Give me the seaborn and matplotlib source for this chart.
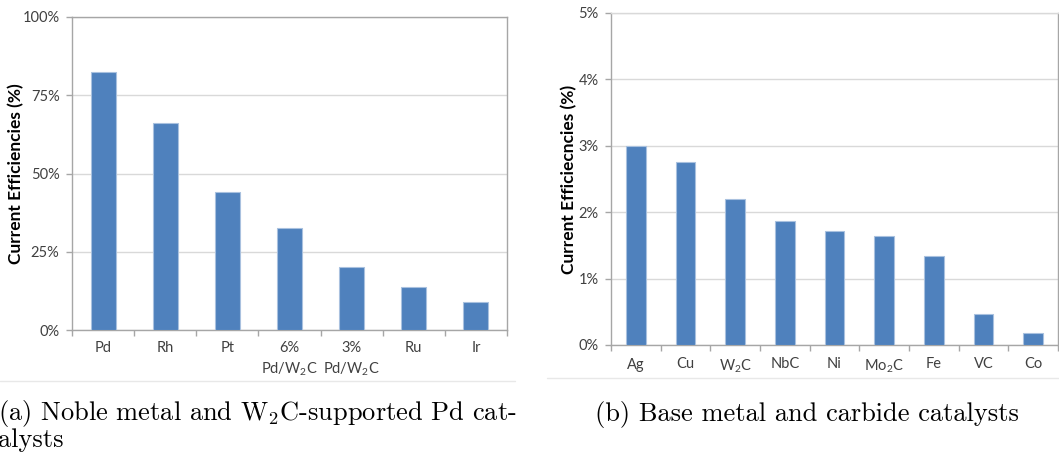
import matplotlib
matplotlib.use('Agg')
import matplotlib.pyplot as plt
import seaborn as sns
import pandas as pd
from matplotlib.ticker import FixedLocator, FuncFormatter
from matplotlib.lines import Line2D

# ---- data ----
noble_cats = ['Pd', 'Rh', 'Pt', '6%\nPd/W$_2$C', '3%\nPd/W$_2$C', 'Ru', 'Ir']
noble_vals = [82.5, 66.0, 44.0, 32.7, 20.0, 13.7, 8.9]
noble_yticks = [0, 25, 50, 75, 100]

base_cats = ['Ag', 'Cu', 'W$_2$C', 'NbC', 'Ni', 'Mo$_2$C', 'Fe', 'VC', 'Co']
base_vals = [3.0, 2.75, 2.2, 1.86, 1.71, 1.64, 1.34, 0.465, 0.185]
base_yticks = [0, 1, 2, 3, 4, 5]

ylabel_a = 'Current Efficiencies (%)'
ylabel_b = 'Current Efficiecncies (%)'
caption_a1 = '(a) Noble metal and W$_2$C-supported Pd cat-'
caption_a2 = 'alysts'
caption_b = '(b) Base metal and carbide catalysts'

# ---- style ----
sns.set_style('white')
plt.rcParams['font.family'] = ['Lato', 'DejaVu Sans']
plt.rcParams['mathtext.fontset'] = 'custom'
plt.rcParams['mathtext.rm'] = 'Lato'
plt.rcParams['mathtext.it'] = 'Lato:italic'
plt.rcParams['mathtext.bf'] = 'Lato:bold'

BAR = '#4F81BD'
EDGE = '#A9C1DF'
GRID = '#D9D9D9'
AXC = '#A6A6A6'
TXT = '#404040'

W, H = 1059, 454
fig = plt.figure(figsize=(W / 100, H / 100), dpi=100)

def px_axes(x0, y0, x1, y1):
    return fig.add_axes([x0 / W, 1 - y1 / H, (x1 - x0) / W, (y1 - y0) / H])

ax1 = px_axes(72, 17, 507, 330)
ax2 = px_axes(611, 13, 1058, 345)

def style(ax, cats, vals, yticks, ylabel, labx, xpad, lsp, top_col):
    df = pd.DataFrame({'cat': cats, 'val': vals})
    sns.barplot(data=df, x='cat', y='val', color=BAR, width=0.4,
                saturation=1, edgecolor=EDGE, linewidth=0.8, ax=ax, zorder=3)
    n = len(cats)
    ax.set_xlim(-0.5, n - 0.5)
    ax.set_ylim(yticks[0], yticks[-1])
    ax.yaxis.set_major_locator(FixedLocator(yticks))
    ax.yaxis.set_major_formatter(FuncFormatter(lambda v, p: f'{v:.0f}%'))
    ax.grid(axis='y', color=GRID, linewidth=1, zorder=0)
    ax.set_axisbelow(True)
    for s in ['left', 'bottom', 'right']:
        ax.spines[s].set_visible(True)
        ax.spines[s].set_color(AXC)
        ax.spines[s].set_linewidth(1)
    ax.spines['top'].set_visible(True)
    ax.spines['top'].set_color(top_col)
    ax.spines['top'].set_linewidth(1)
    ax.xaxis.set_minor_locator(FixedLocator([i - 0.5 for i in range(n + 1)]))
    ax.tick_params(axis='x', which='major', length=0, pad=xpad,
                   labelsize=10.5, labelcolor=TXT)
    ax.tick_params(axis='x', which='minor', length=4, width=1, color=AXC,
                   direction='out', bottom=True)
    ax.tick_params(axis='y', which='major', length=4, width=1, color=AXC,
                   direction='out', left=True, pad=5, labelsize=10.5,
                   labelcolor=TXT)
    for t in ax.get_xticklabels():
        t.set_linespacing(lsp)
    ax.set_xlabel('')
    ax.set_ylabel(ylabel, fontsize=12.5, fontweight='bold', color='black')
    ax.yaxis.set_label_coords(labx, 0.5)

style(ax1, noble_cats, noble_vals, noble_yticks, ylabel_a,
      (24 - 72) / 435, 8, 1.4, AXC)
style(ax2, base_cats, base_vals, base_yticks, ylabel_b,
      (577 - 611) / 447, 9, 1.2, GRID)

# chart-area separator lines
fig.add_artist(Line2D([0, 515 / W], [1 - 381 / H] * 2, color='#E8E8E8',
                      lw=1, transform=fig.transFigure))
fig.add_artist(Line2D([547 / W, 1], [1 - 378 / H] * 2, color='#E8E8E8',
                      lw=1, transform=fig.transFigure))

# captions
cap_kw = dict(family='cmr10', math_fontfamily='cm', fontsize=19,
              color='black', va='baseline')
fig.text(-2 / W, 1 - 420 / H, caption_a1, ha='left', **cap_kw)
fig.text(-2 / W, 1 - 447 / H, caption_a2, ha='left', **cap_kw)
fig.text(807 / W, 1 - 421 / H, caption_b, ha='center', **cap_kw)

fig.savefig('out.png', dpi=100)
